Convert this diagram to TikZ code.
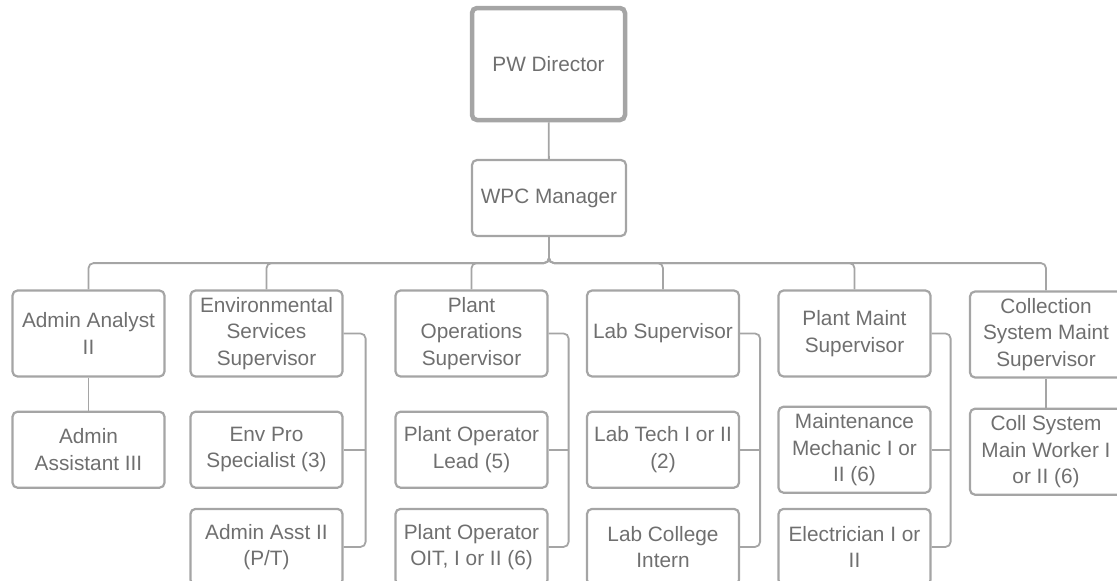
\documentclass[tikz,border=0pt]{standalone}
\usepackage{fontspec}
\setmainfont{Liberation Sans}
\usetikzlibrary{positioning}
\definecolor{boxgray}{HTML}{A5A5A5}
\definecolor{textgray}{HTML}{6F6F6F}

\begin{document}
\begin{tikzpicture}[x=1pt,y=-1pt,
         role/.style = {draw=boxgray, line width=2.2pt, rounded corners=5pt,
         text=textgray, align=center, minimum width=152pt, inner sep=2pt,
         font=\fontsize{20.8}{26.5}\selectfont},
         head/.style = {role, minimum height=86pt},
         staff/.style = {role, minimum height=76pt},
         link/.style = {draw=boxgray, line width=1.8pt, rounded corners=5pt}]

      \useasboundingbox (0,0) rectangle (1117,581);

      % top of the chart
      \node[role, line width=4.5pt, minimum width=153pt, minimum height=112pt]
         (dir) at (548.5,64) {PW Director};
      \node[role, minimum width=154pt, minimum height=76pt]
         (mgr) at (549,198) {WPC Manager};

      % supervisors
      \node[head] (anal)  at (88.5,333.5)  {Admin Analyst\\II};
      \node[head] (env)   at (266.5,333.5) {Environmental\\Services\\Supervisor};
      \node[head] (ops)   at (471.5,333.5) {Plant\\Operations\\Supervisor};
      \node[head] (lab)   at (663,333.5)   {Lab Supervisor};
      \node[head] (maint) at (854.5,333.5) {Plant Maint\\Supervisor};
      \node[head] (coll)  at (1046,334.5)  {Collection\\System Maint\\Supervisor};

      % staff
      \node[staff, below=33pt of anal]   (asst)    {Admin\\Assistant III};
      \node[staff, below=33pt of env]    (envpro)  {Env Pro\\Specialist (3)};
      \node[staff, below=19pt of envpro] (envasst) {Admin Asst II\\(P/T)};
      \node[staff, below=33pt of ops]    (oplead)  {Plant Operator\\Lead (5)};
      \node[staff, below=19pt of oplead] (opoit)   {Plant Operator\\OIT, I or II (6)};
      \node[staff, below=33pt of lab]    (labtech) {Lab Tech I or II\\(2)};
      \node[staff, below=19pt of labtech](labint)  {Lab College\\Intern};
      \node[head,  below=28pt of maint]  (mech)    {Maintenance\\Mechanic I or\\II (6)};
      \node[staff, below=14pt of mech]   (elec)    {Electrician I or\\II};
      \node[head,  below=29pt of coll]   (worker)  {Coll System\\Main Worker I\\or II (6)};

      % reporting lines
      \draw[link] (dir) -- (mgr);
      \foreach \s in {anal,env,ops,lab,maint,coll}
         \draw[link] (mgr.south) -- ++(0,26) -| (\s.north);

      \draw[link] (anal) -- (asst);
      \draw[link] (coll) -- (worker);

      \foreach \s/\a/\b/\d in {env/envpro/envasst/22, ops/oplead/opoit/20,
                               lab/labtech/labint/20, maint/mech/elec/19}{
         \draw[link] (\s.east) -- ++(\d,0) |- (\b.east);
         \draw[link] (\a.east) -- ++(\d,0);
      }
\end{tikzpicture}
\end{document}
